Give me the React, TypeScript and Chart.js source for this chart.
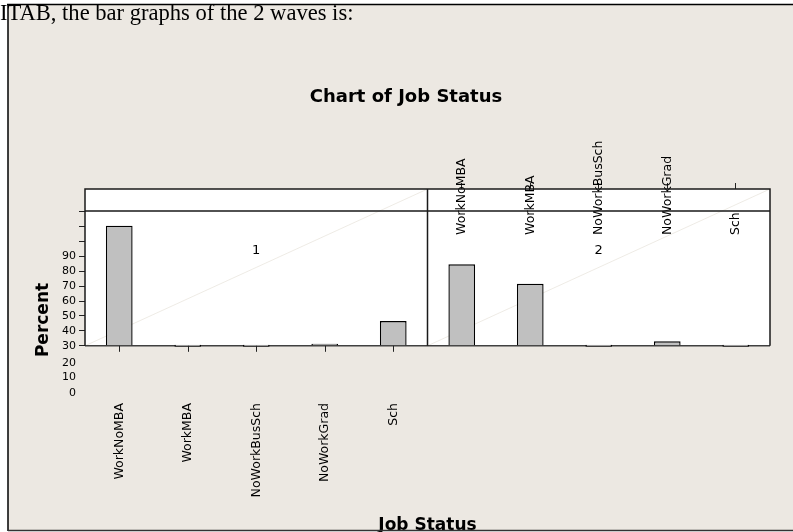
import React, { useEffect, useRef } from "react";
import { Chart, registerables } from "chart.js";

Chart.register(...registerables);

const introText = "ITAB, the bar graphs of the 2 waves is:";
const chartTitle = "Chart of Job Status";
const xTitle = "Job Status";
const yTitle = "Percent";
const categories = ["WorkNoMBA", "WorkMBA", "NoWorkBusSch", "NoWorkGrad", "Sch"];
const waves = ["1", "2"];
const wave1Percent = [80.6, 0, 0, 1.3, 16.6];
const wave2Percent = [54.7, 41.6, 0, 3.0, 0];
const yTickValues = [-31.5, -21, -11.5, 0, 10, 20, 30, 40, 50, 60, 70, 80, 90];
const yTickLabels = ["0", "10", "20", "30", "40", "50", "60", "70", "80", "90", "", "", ""];

const FONT = '"DejaVu Sans", Verdana, sans-serif';

export default function App() {
  const canvasRef = useRef<HTMLCanvasElement | null>(null);

  useEffect(() => {
    const canvas = canvasRef.current;
    if (!canvas) return;
    const perWave = categories.length;
    const labels = [...categories, ...categories];
    const values = [...wave1Percent, ...wave2Percent];

    const decor = {
      id: "decor",
      beforeDraw(chart: any) {
        const { ctx, chartArea, scales } = chart;
        const base = scales.y.getPixelForValue(0);
        const x = scales.x;
        ctx.save();
        ctx.fillStyle = "#ECE8E2";
        ctx.fillRect(8, 5, chart.width - 8, 525);
        ctx.fillStyle = "#FFFFFF";
        ctx.fillRect(chartArea.left, chartArea.top, chartArea.right - chartArea.left, base - chartArea.top);
        const mid = (x.getPixelForValue(perWave - 1) + x.getPixelForValue(perWave)) / 2;
        ctx.strokeStyle = "rgba(200,190,170,0.3)";
        ctx.lineWidth = 1;
        ctx.beginPath();
        ctx.moveTo(chartArea.left, base);
        ctx.lineTo(mid, chartArea.top);
        ctx.moveTo(mid, base);
        ctx.lineTo(chartArea.right, chartArea.top);
        ctx.stroke();
        ctx.restore();
      },
      beforeDatasetsDraw(chart: any) {
        const { ctx, chartArea, scales } = chart;
        const base = scales.y.getPixelForValue(0);
        ctx.save();
        ctx.strokeStyle = "#404040";
        ctx.lineWidth = 1.5;
        ctx.beginPath();
        ctx.moveTo(chartArea.left, base);
        ctx.lineTo(chartArea.right, base);
        ctx.stroke();
        ctx.restore();
      },
      afterDatasetsDraw(chart: any) {
        const { ctx, chartArea, scales } = chart;
        const x = scales.x;
        const base = scales.y.getPixelForValue(0);
        const top = chartArea.top;
        const stripBottom = top + 22;
        const mid = (x.getPixelForValue(perWave - 1) + x.getPixelForValue(perWave)) / 2;
        ctx.save();
        ctx.strokeStyle = "#1a1a1a";
        ctx.lineWidth = 1.5;
        ctx.beginPath();
        ctx.moveTo(chartArea.left, base);
        ctx.lineTo(chartArea.left, top);
        ctx.lineTo(chartArea.right, top);
        ctx.lineTo(chartArea.right, base);
        ctx.moveTo(chartArea.left, stripBottom);
        ctx.lineTo(chartArea.right, stripBottom);
        ctx.moveTo(mid, top);
        ctx.lineTo(mid, base);
        ctx.stroke();
        ctx.strokeStyle = "#222";
        ctx.lineWidth = 1;
        ctx.beginPath();
        for (let i = 0; i < perWave; i++) {
          const px = Math.round(x.getPixelForValue(i)) + 0.5;
          ctx.moveTo(px, base);
          ctx.lineTo(px, base + 6);
        }
        ctx.stroke();
        ctx.fillStyle = "#000";
        ctx.font = `13px ${FONT}`;
        ctx.textAlign = "center";
        ctx.textBaseline = "middle";
        ctx.fillText(waves[0], (chartArea.left + mid) / 2, top + 62);
        ctx.fillText(waves[1], (mid + chartArea.right) / 2, top + 62);
        ctx.restore();
      },
      afterDraw(chart: any) {
        const { ctx } = chart;
        ctx.save();
        ctx.fillStyle = "#000";
        ctx.font = `bold 18px ${FONT}`;
        ctx.textAlign = "center";
        ctx.textBaseline = "alphabetic";
        ctx.fillText(chartTitle, 406, 101.5);
        ctx.translate(44, 320);
        ctx.rotate(-Math.PI / 2);
        ctx.font = `bold 17px ${FONT}`;
        ctx.textBaseline = "middle";
        ctx.fillText(yTitle, 0, 0);
        ctx.restore();
        ctx.save();
        ctx.strokeStyle = "#000";
        ctx.lineWidth = 1.5;
        ctx.beginPath();
        ctx.moveTo(7, 4.5);
        ctx.lineTo(chart.width, 4.5);
        ctx.moveTo(8, 4);
        ctx.lineTo(8, 531);
        ctx.stroke();
        ctx.strokeStyle = "#333";
        ctx.beginPath();
        ctx.moveTo(8, 530.5);
        ctx.lineTo(chart.width, 530.5);
        ctx.stroke();
        ctx.restore();
      },
    };

    const chart = new Chart(canvas, {
      type: "bar",
      data: {
        labels,
        datasets: [
          {
            data: values,
            backgroundColor: "#C0C0C0",
            borderColor: "#000",
            borderWidth: 1.4,
            borderSkipped: "start",
            barPercentage: 0.39,
            categoryPercentage: 1,
            minBarLength: 2,
          },
        ],
      },
      options: {
        responsive: false,
        animation: false,
        layout: { padding: { left: 0, top: 89, right: 23, bottom: 0 } },
        plugins: {
          legend: { display: false },
          tooltip: { enabled: false },
          title: { display: false },
        },
        scales: {
          x: {
            type: "category",
            position: "bottom",
            offset: true,
            grid: { display: false, drawTicks: false, offset: true },
            border: { display: false },
            ticks: {
              autoSkip: false,
              maxRotation: 90,
              minRotation: 90,
              padding: 8,
              color: "#000",
              font: { family: FONT, size: 12.5, lineHeight: 0.01 },
              callback: (_v: any, i: number) => (i < perWave ? categories[i] : ""),
            },
            title: {
              display: true,
              text: xTitle,
              color: "#000",
              font: { family: FONT, size: 17, weight: "bold" },
              padding: { top: 0, bottom: -4 },
            },
            afterFit: (s: any) => {
              s.height = 137;
            },
          },
          x2: {
            type: "category",
            position: "top",
            labels,
            offset: true,
            grid: {
              display: true,
              drawOnChartArea: false,
              drawTicks: true,
              tickLength: 6,
              offset: false,
              tickWidth: 1,
              tickColor: (c: any) => (c.index >= perWave ? "#222" : "rgba(0,0,0,0)"),
            },
            border: { display: false },
            ticks: {
              autoSkip: false,
              mirror: true,
              maxRotation: 90,
              minRotation: 90,
              padding: 46,
              color: "#000",
              font: { family: FONT, size: 12.5, lineHeight: 0.01 },
              callback: (_v: any, i: number) => (i >= perWave ? categories[i - perWave] : ""),
            },
            afterFit: (s: any) => {
              s.height = 100;
            },
          },
          y: {
            type: "linear",
            position: "left",
            bounds: "data",
            min: -33,
            max: 105.2,
            grid: {
              drawOnChartArea: false,
              drawTicks: true,
              tickLength: 6,
              tickWidth: 1,
              tickColor: (c: any) => (c.tick && c.tick.value >= 0 ? "#222" : "rgba(0,0,0,0)"),
            },
            border: { display: false },
            afterBuildTicks: (s: any) => {
              s.ticks = yTickValues.map((v) => ({ value: v }));
            },
            ticks: {
              autoSkip: false,
              padding: 3,
              color: "#000",
              font: { family: FONT, size: 11 },
              callback: (_v: any, i: number) => yTickLabels[i],
            },
            afterFit: (s: any) => {
              s.width = 85;
            },
          },
        },
      },
      plugins: [decor],
    } as any);

    return () => chart.destroy();
  }, []);

  return (
    <div style={{ position: "absolute", left: 0, top: 0, width: 793, height: 532, background: "#fff" }}>
      <canvas ref={canvasRef} width={793} height={532} style={{ position: "absolute", left: 0, top: 0 }} />
      <div
        style={{
          position: "absolute",
          left: 0,
          top: 0,
          fontFamily: '"Liberation Serif", "Times New Roman", serif',
          fontSize: 24,
          lineHeight: "24px",
          whiteSpace: "nowrap",
          color: "#000",
          transform: "scaleX(0.94)",
          transformOrigin: "left top",
        }}
      >
        {introText}
      </div>
    </div>
  );
}
